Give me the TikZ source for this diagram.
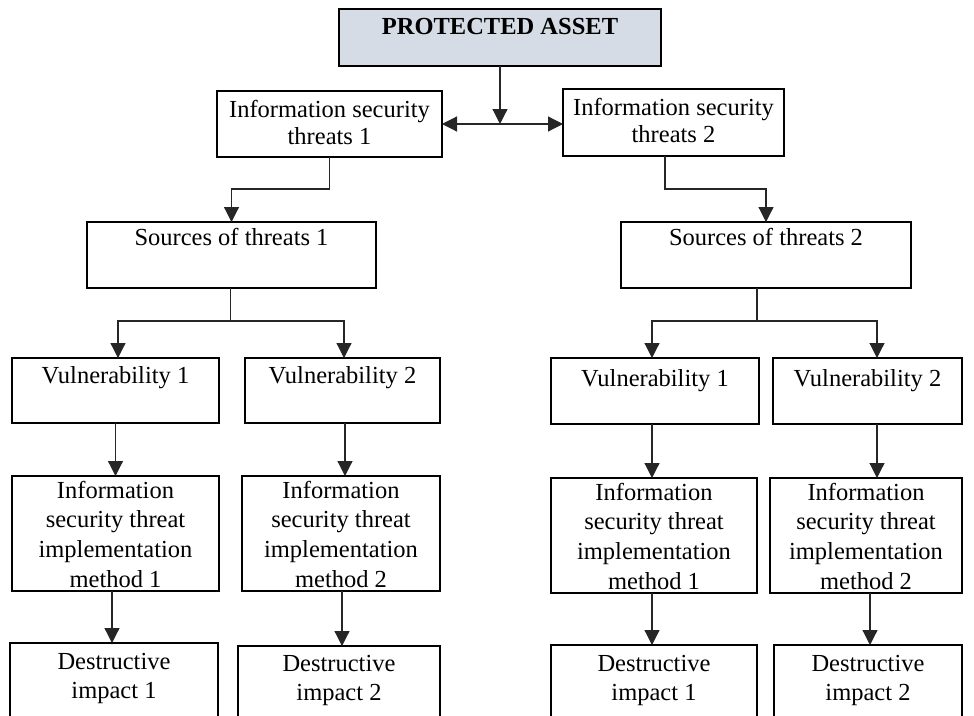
\documentclass[tikz,border=0pt]{standalone}
\usepackage{fontspec}
\setmainfont{Liberation Serif}
\usetikzlibrary{arrows.meta}
\definecolor{assetfill}{RGB}{214,220,229}
% strut fixing the height of the first text line
\newcommand{\tstr}{\rule{0pt}{17pt}}
\begin{document}
\begin{tikzpicture}[x=1pt,y=-1pt,
  box/.style={draw=black, line width=1.9pt, inner sep=0pt, outer sep=0pt},
  txt/.style={inner sep=0pt, outer sep=0pt, anchor=north, align=center,
    font=\fontsize{24.5}{27}\selectfont},
  txtwide/.style={txt, font=\fontsize{24.5}{29.7}\selectfont},
  link/.style={draw=black!85, line width=1.2pt},
  arr/.style={link, -{Triangle[length=15pt,width=15pt]}},
  arrboth/.style={link, {Triangle[length=15pt,width=15pt]}-{Triangle[length=15pt,width=15pt]}}
]
\clip (0,0) rectangle (974,715);
\fill[white] (0,0) rectangle (974,715);

% ---- boxes ----
\node[box, fill=assetfill, minimum width=322pt, minimum height=57pt] (asset) at (500,37.5) {};
\node[box, minimum width=225pt, minimum height=66pt] (thr1) at (329.5,124) {};
\node[box, minimum width=221pt, minimum height=67pt] (thr2) at (673.5,122.5) {};
\node[box, minimum width=289pt, minimum height=66pt] (src1) at (231.5,255) {};
\node[box, minimum width=290pt, minimum height=66pt] (src2) at (766,255) {};

\node[box, minimum width=207pt, minimum height=65pt] (v11) at (115.5,390.5) {};
\node[box, minimum width=195pt, minimum height=65pt] (v12) at (342.5,390.5) {};
\node[box, minimum width=208pt, minimum height=66pt] (v21) at (655,391) {};
\node[box, minimum width=189pt, minimum height=66pt] (v22) at (867.5,391) {};

\node[box, minimum width=207pt, minimum height=115pt] (m11) at (115.5,533.5) {};
\node[box, minimum width=198pt, minimum height=115pt] (m12) at (341,533.5) {};
\node[box, minimum width=206pt, minimum height=115pt] (m21) at (654,535.5) {};
\node[box, minimum width=192pt, minimum height=115pt] (m22) at (866,535.5) {};

\node[box, minimum width=208pt, minimum height=97pt] (d11) at (114,691.5) {};
\node[box, minimum width=202pt, minimum height=97pt] (d12) at (339,694.5) {};
\node[box, minimum width=206pt, minimum height=97pt] (d21) at (654,693.5) {};
\node[box, minimum width=188pt, minimum height=97pt] (d22) at (868,693.5) {};

% ---- texts ----
\node[txt] (t-asset) at (500,17) {\tstr\textbf{PROTECTED ASSET}};
\node[txt] (t-thr1) at (329.5,100) {\tstr Information security\\threats 1};
\node[txt] (t-thr2) at (673.5,98) {\tstr Information security\\threats 2};
\node[txt] (t-src1) at (231.5,228) {\tstr Sources of threats 1};
\node[txt] (t-src2) at (766,228) {\tstr Sources of threats 2};

\node[txt] (t-v11) at (115.5,366) {\tstr Vulnerability 1};
\node[txt] (t-v12) at (342.5,366) {\tstr Vulnerability 2};
\node[txt] (t-v21) at (655,369) {\tstr Vulnerability 1};
\node[txt] (t-v22) at (867.5,369) {\tstr Vulnerability 2};

\node[txtwide] (t-m11) at (115.5,481) {\tstr Information\\security threat\\implementation\\method 1};
\node[txtwide] (t-m12) at (341,481) {\tstr Information\\security threat\\implementation\\method 2};
\node[txtwide] (t-m21) at (654,483) {\tstr Information\\security threat\\implementation\\method 1};
\node[txtwide] (t-m22) at (866,483) {\tstr Information\\security threat\\implementation\\method 2};

\node[txtwide] (t-d11) at (114,652) {\tstr Destructive\\impact 1};
\node[txtwide] (t-d12) at (339,654) {\tstr Destructive\\impact 2};
\node[txtwide] (t-d21) at (654,654) {\tstr Destructive\\impact 1};
\node[txtwide] (t-d22) at (868,654) {\tstr Destructive\\impact 2};

% ---- connectors ----
\draw[arr] (asset.south) -- (asset.south |- thr1.east);
\draw[arrboth] (thr1.east) -- (thr1.east -| thr2.west);
\draw[arr] (thr1.south) -- ++(0,32) -| (src1.north);
\draw[arr] ([xshift=-8.5pt]thr2.south) -- ++(0,33) -| (src2.north);

\coordinate (bus1) at (230.5,321);
\coordinate (bus2) at (757,321);
\draw[link] ([xshift=-1pt]src1.south) -- (bus1);
\draw[arr] (bus1) -| ([xshift=2.5pt]v11.north);
\draw[arr] (bus1) -| ([xshift=1.5pt]v12.north);
\draw[link] ([xshift=-9pt]src2.south) -- (bus2);
\draw[arr] (bus2) -| ([xshift=-3pt]v21.north);
\draw[arr] (bus2) -| ([xshift=9.5pt]v22.north);

\draw[arr] (v11.south) -- (v11.south |- m11.north);
\draw[arr] ([xshift=2.5pt]v12.south) -- ([xshift=2.5pt]v12.south |- m12.north);
\draw[arr] ([xshift=-3pt]v21.south) -- ([xshift=-3pt]v21.south |- m21.north);
\draw[arr] ([xshift=9.5pt]v22.south) -- ([xshift=9.5pt]v22.south |- m22.north);

\draw[arr] ([xshift=-3.5pt]m11.south) -- ([xshift=-3.5pt]m11.south |- d11.north);
\draw[arr] ([xshift=1pt]m12.south) -- ([xshift=1pt]m12.south |- d12.north);
\draw[arr] ([xshift=-2pt]m21.south) -- ([xshift=-2pt]m21.south |- d21.north);
\draw[arr] ([xshift=4pt]m22.south) -- ([xshift=4pt]m22.south |- d22.north);
\end{tikzpicture}
\end{document}
